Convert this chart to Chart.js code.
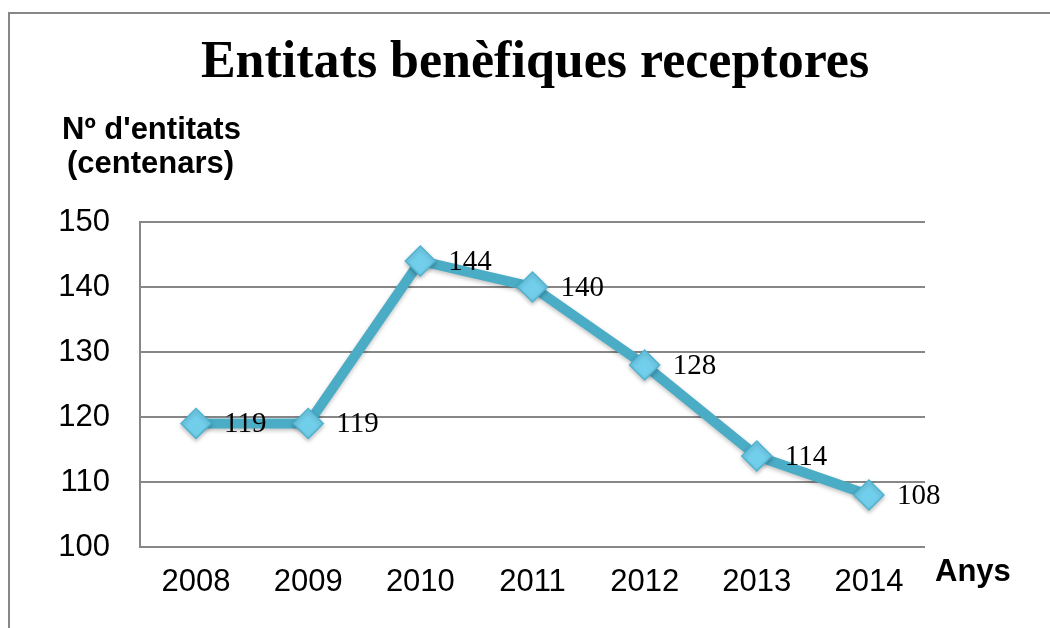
<!DOCTYPE html>
<html>
<head>
<meta charset="utf-8">
<script src="https://cdn.jsdelivr.net/npm/chart.js@4.4.1/dist/chart.umd.min.js"></script>
<style>
    html, body { margin: 0; padding: 0; background: #fff; }
    #wrap { width: 1050px; height: 628px; }
</style>
</head>
<body>
<div id="wrap"><canvas id="chart" width="1050" height="628"></canvas></div>
<script>
// data
const years = ['2008', '2009', '2010', '2011', '2012', '2013', '2014'];
const entitats = [119, 119, 144, 140, 128, 114, 108];
const yTicks = [100, 110, 120, 130, 140, 150];

const chartTitle = 'Entitats benèfiques receptores';
const lineColor = '#4bacc6';

// frame, title, axis titles and value labels
const extrasPlugin = {
    id: 'extras',
    beforeDraw(chart) {
        const ctx = chart.ctx;
        ctx.save();
        ctx.strokeStyle = '#878787';
        ctx.lineWidth = 2;
        ctx.beginPath();
        ctx.moveTo(9, 628);
        ctx.lineTo(9, 13);
        ctx.lineTo(1050, 13);
        ctx.stroke();
        ctx.restore();
    },
    beforeDatasetsDraw(chart) {
        // soft shadow under the line and markers
        const ctx = chart.ctx;
        ctx.save();
        ctx.shadowColor = 'rgba(0,0,0,0.25)';
        ctx.shadowBlur = 4;
        ctx.shadowOffsetY = 2;
    },
    afterDatasetsDraw(chart) {
        chart.ctx.restore();
    },
    afterDraw(chart) {
        const ctx = chart.ctx;
        ctx.save();
        ctx.fillStyle = '#000';
        ctx.textBaseline = 'middle';

        ctx.textAlign = 'center';
        ctx.font = 'bold 52px "Liberation Serif", "Times New Roman", serif';
        ctx.fillText(chartTitle, 535, 64);

        ctx.textAlign = 'left';
        ctx.font = 'bold 31px "Liberation Sans", Arial, sans-serif';
        ctx.fillText("Nº d'entitats", 62, 130);
        ctx.fillText('(centenars)', 67, 164);
        ctx.fillText('Anys', 935, 572);

        // value labels to the right of each point
        const meta = chart.getDatasetMeta(0);
        ctx.font = '29px "Liberation Serif", "Times New Roman", serif';
        meta.data.forEach((pt, i) => {
            ctx.fillText(String(entitats[i]), pt.x + 28, pt.y + 1);
        });
        ctx.restore();
    }
};

new Chart(document.getElementById('chart').getContext('2d'), {
    type: 'line',
    data: {
        labels: years,
        datasets: [{
            label: "Nº d'entitats",
            data: entitats,
            borderColor: lineColor,
            borderWidth: 10,
            tension: 0,
            pointStyle: 'rectRot',
            pointRadius: 15,
            pointBackgroundColor: '#72cfec',
            pointBorderColor: '#4fb3cf',
            pointBorderWidth: 1.5
        }]
    },
    options: {
        responsive: false,
        animation: false,
        layout: { padding: { left: 0, right: 125, top: 222, bottom: 0 } },
        plugins: {
            legend: { display: false },
            tooltip: { enabled: false },
            title: { display: false }
        },
        scales: {
            x: {
                offset: true,
                grid: { display: false, drawTicks: false },
                border: { display: false },
                ticks: {
                    color: '#000',
                    padding: 17,
                    font: { family: '"Liberation Sans", Arial, sans-serif', size: 31 }
                },
                afterFit(scale) { scale.height = 81; }
            },
            y: {
                min: 100,
                max: 150,
                afterBuildTicks(scale) { scale.ticks = yTicks.map(v => ({ value: v })); },
                grid: { color: '#878787', lineWidth: 2, drawTicks: false },
                border: { display: true, color: '#878787', width: 2 },
                ticks: {
                    color: '#000',
                    padding: 30,
                    font: { family: '"Liberation Sans", Arial, sans-serif', size: 31 }
                },
                afterFit(scale) { scale.width = 140; }
            }
        }
    },
    plugins: [extrasPlugin]
});
</script>
</body>
</html>
